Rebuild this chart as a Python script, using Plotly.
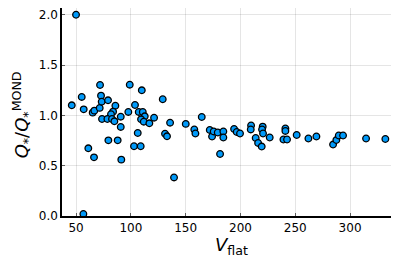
import plotly.graph_objects as go

v_flat = [50.0, 71.9, 99.0, 55.2, 72.8, 110.0, 46.1, 57.0, 65.2, 66.7, 71.6, 73.4, 79.2, 85.9,
          83.8, 81.9, 73.7, 78.6, 82.8, 85.0, 90.8, 90.8, 97.7, 103.8, 107.2, 110.9, 112.7,
          109.3, 111.8, 116.9, 121.2, 129.1, 135.8, 131.2, 133.0, 106.3, 79.5, 88.0, 102.9,
          109.0, 61.2, 66.4, 91.3, 139.4, 56.7,
          150.1, 157.9, 158.9, 164.7, 172.0, 174.1, 175.6, 179.3, 184.4, 184.4, 181.4, 194.2,
          196.6, 199.6, 209.7, 209.4, 213.9, 216.1, 219.4, 220.3, 219.7, 220.6, 226.7, 241.0,
          241.0, 239.2, 242.5, 251.3, 262.0, 269.3, 284.5, 287.5, 289.7, 293.6, 314.6, 332.2]
q_ratio = [2.0, 1.302, 1.305, 1.183, 1.196, 1.249, 1.10, 1.06, 1.027, 1.047, 1.074, 1.136, 1.15,
           1.096, 1.037, 1.011, 0.964, 0.964, 0.964, 0.941, 0.987, 0.885, 1.034, 1.103, 1.034,
           1.034, 0.991, 0.961, 0.937, 0.921, 0.977, 1.16, 0.927, 0.818, 0.792, 0.825, 0.752,
           0.752, 0.693, 0.693, 0.673, 0.583, 0.56, 0.383, 0.02,
           0.915, 0.86, 0.82, 0.984, 0.855, 0.79, 0.84, 0.83, 0.84, 0.78, 0.616, 0.865, 0.835,
           0.82, 0.90, 0.86, 0.775, 0.726, 0.69, 0.888, 0.86, 0.82, 0.78, 0.87, 0.845, 0.76,
           0.76, 0.805, 0.77, 0.79, 0.71, 0.755, 0.80, 0.80, 0.77, 0.765]

x_ticks = [50, 100, 150, 200, 250, 300]
y_ticks = [0.0, 0.5, 1.0, 1.5, 2.0]
y_tick_labels = ["0.0", "0.5", "1.0", "1.5", "2.0"]

fig = go.Figure(go.Scatter(
    x=v_flat, y=q_ratio, mode="markers", cliponaxis=False,
    marker=dict(size=6.6, color="#009AFA", line=dict(color="black", width=1.3)),
    showlegend=False,
))

axis_common = dict(
    showgrid=True, gridcolor="rgba(0,0,0,0.1)", gridwidth=1,
    showline=True, linecolor="black", linewidth=1.5, mirror=False,
    ticks="inside", ticklen=3, tickcolor="rgba(0,0,0,0.6)", tickwidth=1,
    zeroline=False, automargin=False, ticklabeloverflow="allow",
    tickfont=dict(family="DejaVu Sans", size=12, color="black"),
)

fig.update_xaxes(range=[37.2, 341], tickvals=x_ticks, **axis_common)
fig.update_yaxes(range=[0, 2.067], tickvals=y_ticks, ticktext=y_tick_labels, **axis_common)

fig.update_layout(
    width=391, height=258,
    margin=dict(l=54, r=4, t=0, b=50),
    paper_bgcolor="white", plot_bgcolor="white",
    annotations=[
        dict(text="<i>V</i><sub>flat</sub>", x=0.51, y=-0.145, xref="paper", yref="paper",
             xanchor="center", yanchor="middle", showarrow=False,
             font=dict(family="DejaVu Sans", size=18, color="black")),
        dict(text="<i>Q</i><sub>*</sub>/<i>Q</i><sub>*</sub><sup>MOND</sup>", textangle=-90,
             x=-0.12, y=0.484, xref="paper", yref="paper", xanchor="center", yanchor="middle",
             showarrow=False, font=dict(family="DejaVu Sans", size=18, color="black")),
    ],
)

fig.write_html("out.html")
